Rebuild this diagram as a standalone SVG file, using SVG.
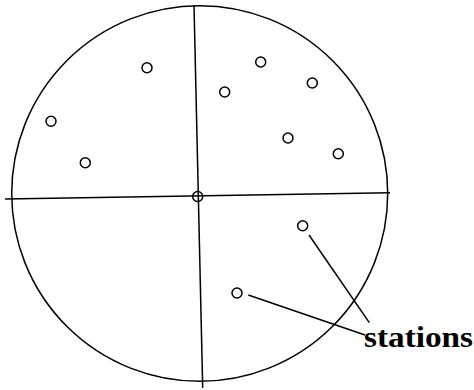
<svg xmlns="http://www.w3.org/2000/svg" width="474" height="390" viewBox="0 0 474 390">
<style>
.l{fill:none;stroke:#000;stroke-width:1.5}
.st{fill:#fff;stroke:#000;stroke-width:1.5}
.t{font-family:"Liberation Serif",serif;font-weight:bold;font-size:30px;fill:#000}
</style>
<rect width="474" height="390" fill="#fff"/>
<g id="boundary"><ellipse class="l" cx="199.7" cy="193.5" rx="188" ry="187.8"/></g>
<g id="axes">
<line class="l" x1="5" y1="199" x2="390" y2="192.7"/>
<line class="l" x1="194" y1="5" x2="202.7" y2="388"/>
</g>
<g id="center"><circle class="l" cx="197.7" cy="196.5" r="5"/></g>
<g id="stations">
<circle class="st" cx="147" cy="67.7" r="5"/>
<circle class="st" cx="51" cy="121.3" r="5"/>
<circle class="st" cx="85.3" cy="162.7" r="5"/>
<circle class="st" cx="224.7" cy="92" r="5"/>
<circle class="st" cx="260.7" cy="62" r="5"/>
<circle class="st" cx="312.3" cy="83" r="5"/>
<circle class="st" cx="288" cy="138" r="5"/>
<circle class="st" cx="338.3" cy="153.7" r="5"/>
<circle class="st" cx="302.7" cy="225.7" r="5"/>
<circle class="st" cx="237" cy="293" r="5"/>
</g>
<g id="connectors">
<line class="l" x1="309" y1="235" x2="369.3" y2="322.7"/>
<line class="l" x1="248.3" y1="295" x2="365" y2="335"/>
</g>
<g id="label"><text class="t" x="364" y="346.5" textLength="109" lengthAdjust="spacingAndGlyphs">stations</text></g>
</svg>
